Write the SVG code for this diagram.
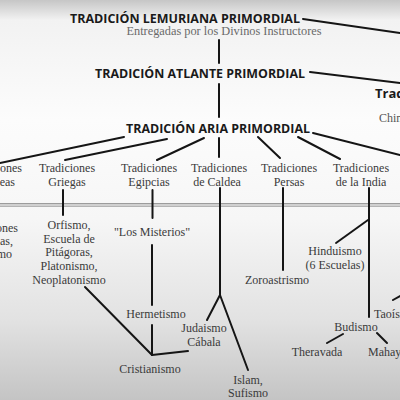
<svg xmlns="http://www.w3.org/2000/svg" width="400" height="400" viewBox="0 0 400 400">
<defs>
<linearGradient id="bg" x1="0" y1="0" x2="0" y2="1">
<stop offset="0" stop-color="#c6c6c6"/>
<stop offset="0.05" stop-color="#f2f2f2"/>
<stop offset="0.3" stop-color="#fcfcfc"/>
<stop offset="0.55" stop-color="#f6f6f6"/>
<stop offset="0.8" stop-color="#e2e2e2"/>
<stop offset="1" stop-color="#c4c4c4"/>
</linearGradient>
<style>
.t{font-family:"Open Sans","Liberation Sans",sans-serif;font-weight:bold;font-size:13px;fill:#1a1a1a}
.s{font-family:"Liberation Serif",serif;font-size:12px;fill:#3a3a3a;text-anchor:middle}
.g{fill:#6a6a6a}
.c line,.c polyline{stroke:#151515;stroke-width:2;fill:none;stroke-linecap:round}
</style>
</defs>
<rect x="0" y="0" width="400" height="400" fill="url(#bg)"/>
<g id="separator">
<rect x="0" y="203" width="400" height="4" fill="#d0d0d0"/>
<line x1="0" y1="203.5" x2="400" y2="203.5" stroke="#9c9c9c" stroke-width="1"/>
<line x1="0" y1="206.5" x2="400" y2="206.5" stroke="#b4b4b4" stroke-width="1"/>
</g>
<g class="c" id="connectors">
<line x1="303" y1="19" x2="400" y2="33"/>
<line x1="219" y1="40" x2="219" y2="63"/>
<line x1="310" y1="72" x2="400" y2="83"/>
<line x1="219" y1="84" x2="219" y2="117"/>
<line x1="124" y1="137" x2="0" y2="163"/>
<line x1="167" y1="139" x2="65" y2="160"/>
<line x1="204" y1="138" x2="157" y2="160"/>
<line x1="219" y1="138" x2="219" y2="157"/>
<line x1="258" y1="137" x2="280" y2="158"/>
<line x1="298" y1="137" x2="340" y2="159"/>
<line x1="313" y1="133" x2="400" y2="155"/>
<line x1="63" y1="190" x2="63" y2="215"/>
<line x1="152.5" y1="190" x2="152.5" y2="218"/>
<line x1="220" y1="188" x2="220" y2="295"/>
<line x1="220" y1="295" x2="207" y2="320"/>
<line x1="220" y1="295" x2="248" y2="370"/>
<line x1="283" y1="188" x2="283" y2="270"/>
<line x1="369" y1="188" x2="369" y2="317"/>
<line x1="368" y1="220" x2="336" y2="243"/>
<line x1="152" y1="245" x2="152" y2="305"/>
<line x1="152" y1="325" x2="152" y2="355"/>
<line x1="85" y1="287" x2="152" y2="355"/>
<line x1="152" y1="355" x2="188" y2="351"/>
<line x1="393" y1="300" x2="400" y2="296"/>
<line x1="343" y1="334" x2="327" y2="343"/>
<line x1="377" y1="333" x2="387" y2="343"/>
</g>
<g id="lemuriana">
<text class="t" x="70" y="23" textLength="230" lengthAdjust="spacingAndGlyphs">TRADICIÓN LEMURIANA PRIMORDIAL</text>
<text class="s g" x="224" y="35" font-size="11.5" textLength="195" lengthAdjust="spacingAndGlyphs" text-anchor="middle">Entregadas por los Divinos Instructores</text>
</g>
<g id="atlante">
<text class="t" x="95" y="78" textLength="210" lengthAdjust="spacingAndGlyphs">TRADICIÓN ATLANTE PRIMORDIAL</text>
</g>
<g id="aria">
<text class="t" x="126" y="133" textLength="184" lengthAdjust="spacingAndGlyphs">TRADICIÓN ARIA PRIMORDIAL</text>
</g>
<g id="trad-right">
<text class="t" x="375" y="98" font-size="12">Trad</text>
<text class="s" x="379" y="122" style="text-anchor:start;fill:#555">Chin</text>
</g>
<g id="hebreas">
<text class="s" x="22" y="172" style="text-anchor:end">ones</text>
<text class="s" x="15" y="186" style="text-anchor:end">eas</text>
</g>
<g id="griegas">
<text class="s" x="67" y="172">Tradiciones</text>
<text class="s" x="67" y="186">Griegas</text>
</g>
<g id="egipcias">
<text class="s" x="149" y="172">Tradiciones</text>
<text class="s" x="149" y="186">Egipcias</text>
</g>
<g id="caldea">
<text class="s" x="219" y="172">Tradiciones</text>
<text class="s" x="217" y="186">de Caldea</text>
</g>
<g id="persas">
<text class="s" x="289" y="172">Tradiciones</text>
<text class="s" x="289" y="186">Persas</text>
</g>
<g id="india">
<text class="s" x="361" y="172">Tradiciones</text>
<text class="s" x="361" y="186">de la India</text>
</g>
<g id="left-cut">
<text class="s" x="18" y="232" style="text-anchor:end">ones</text>
<text class="s" x="13" y="245" style="text-anchor:end">as,</text>
<text class="s" x="12" y="258" style="text-anchor:end">mo</text>
</g>
<g id="orfismo">
<text class="s" x="69" y="229">Orfismo,</text>
<text class="s" x="69" y="243">Escuela de</text>
<text class="s" x="69" y="256">Pitágoras,</text>
<text class="s" x="69" y="270">Platonismo,</text>
<text class="s" x="69" y="284">Neoplatonismo</text>
</g>
<g id="misterios">
<text class="s" x="152" y="236">"Los Misterios"</text>
</g>
<g id="hermetismo">
<text class="s" x="156" y="318">Hermetismo</text>
</g>
<g id="cristianismo">
<text class="s" x="150" y="373">Cristianismo</text>
</g>
<g id="judaismo">
<text class="s" x="204" y="332">Judaismo</text>
<text class="s" x="204" y="346">Cábala</text>
</g>
<g id="islam">
<text class="s" x="248" y="384">Islam,</text>
<text class="s" x="248" y="397">Sufismo</text>
</g>
<g id="zoroastrismo">
<text class="s" x="277" y="284">Zoroastrismo</text>
</g>
<g id="hinduismo">
<text class="s" x="335" y="255">Hinduismo</text>
<text class="s" x="335" y="269">(6 Escuelas)</text>
</g>
<g id="taoismo">
<text class="s" x="374" y="318" style="text-anchor:start">Taoísmo</text>
</g>
<g id="budismo">
<text class="s" x="356" y="331">Budismo</text>
</g>
<g id="theravada">
<text class="s" x="317" y="356">Theravada</text>
</g>
<g id="mahayana">
<text class="s" x="368" y="356" style="text-anchor:start">Mahayana</text>
</g>
</svg>
